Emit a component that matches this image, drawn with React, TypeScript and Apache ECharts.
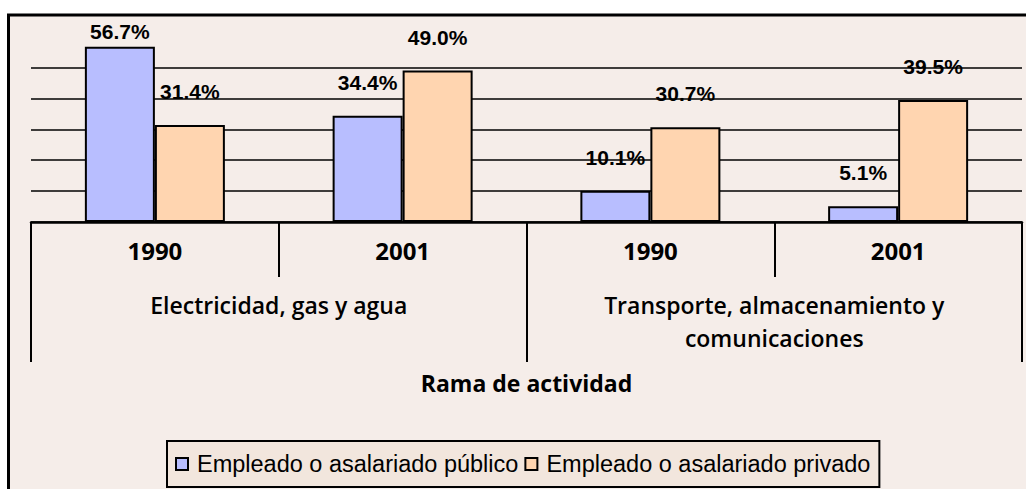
import React, { useEffect, useRef } from "react";
import * as echarts from "echarts";

const years = ["1990", "2001", "1990", "2001"];
const branches = ["Electricidad, gas y agua", "Transporte, almacenamiento y\ncomunicaciones"];
const publicValues = [56.7, 34.4, 10.1, 5.1];
const privateValues = [31.4, 49.0, 30.7, 39.5];
const seriesNames = ["Empleado o asalariado público", "Empleado o asalariado privado"];
const axisTitle = "Rama de actividad";

export default function App() {
  const ref = useRef<HTMLDivElement>(null);
  useEffect(() => {
    if (!ref.current) return;
    const chart = echarts.init(ref.current, undefined, { renderer: "svg" });
    const labelStyle = {
      show: true,
      position: "top",
      distance: 23,
      fontFamily: "Liberation Sans",
      fontWeight: "bold",
      fontSize: 21,
      color: "#000",
      formatter: (p: any) => Number(p.value).toFixed(1) + "%",
    };
    const pubData = publicValues.map((v, i) =>
      i === 0 ? { value: v, label: { distance: 5 } } : { value: v }
    );
    chart.setOption({
      animation: false,
      backgroundColor: "#ffffff",
      graphic: [
        {
          type: "rect",
          z: -10,
          silent: true,
          shape: { x: 8.5, y: 15, width: 1040, height: 500 },
          style: { fill: "#F5EDE9", stroke: "#000", lineWidth: 3 },
        },
      ],
      grid: { left: 31, right: 4, top: 67.5, bottom: 489 - 222 },
      legend: {
        bottom: 2,
        left: 167,
        data: seriesNames,
        itemWidth: 12,
        itemHeight: 12,
        itemGap: 6,
        padding: [11, 9, 11, 8],
        backgroundColor: "#F2E6DD",
        borderColor: "#000",
        borderWidth: 2,
        icon: "rect",
        textStyle: { fontFamily: "Liberation Sans", fontSize: 23.5, color: "#000", padding: [0, 0, 0, 4] },
      },
      xAxis: [
        {
          type: "category",
          data: years,
          position: "bottom",
          axisLine: { show: true, lineStyle: { color: "#000", width: 2.5 } },
          axisTick: { show: true, length: 55, lineStyle: { color: "#000", width: 2 } },
          axisLabel: {
            margin: 16,
            fontFamily: "Open Sans",
            fontWeight: "bold",
            fontSize: 24,
            color: "#000",
          },
        },
        {
          type: "category",
          data: branches,
          position: "bottom",
          axisLine: { show: false },
          axisTick: { show: true, length: 140, lineStyle: { color: "#000", width: 2 } },
          axisLabel: {
            margin: 66,
            fontFamily: "Open Sans",
            fontWeight: 600,
            fontSize: 23,
            lineHeight: 33,
            color: "#000",
          },
          name: axisTitle,
          nameLocation: "middle",
          nameGap: 149,
          nameTextStyle: {
            fontFamily: "Open Sans",
            fontWeight: "bold",
            fontSize: 23,
            color: "#000",
          },
        },
      ],
      yAxis: {
        type: "value",
        min: 0,
        max: 50,
        interval: 10,
        axisLine: { show: false },
        axisTick: { show: false },
        axisLabel: { show: false },
        splitLine: { show: true, lineStyle: { color: "#000", width: 1.5 } },
      },
      series: [
        {
          name: seriesNames[0],
          type: "bar",
          data: pubData,
          barWidth: 70,
          barGap: "0%",
          clip: false,
          itemStyle: { color: "#B8BEFF", borderColor: "#000", borderWidth: 2 },
          label: labelStyle,
        },
        {
          name: seriesNames[1],
          type: "bar",
          data: privateValues,
          barWidth: 70,
          barGap: "0%",
          clip: false,
          itemStyle: { color: "#FFD5B0", borderColor: "#000", borderWidth: 2 },
          label: labelStyle,
        },
      ],
    });
    return () => chart.dispose();
  }, []);
  return (
    <div
      ref={ref}
      style={{ position: "absolute", left: 0, top: 0, width: 1026, height: 489 }}
    />
  );
}
